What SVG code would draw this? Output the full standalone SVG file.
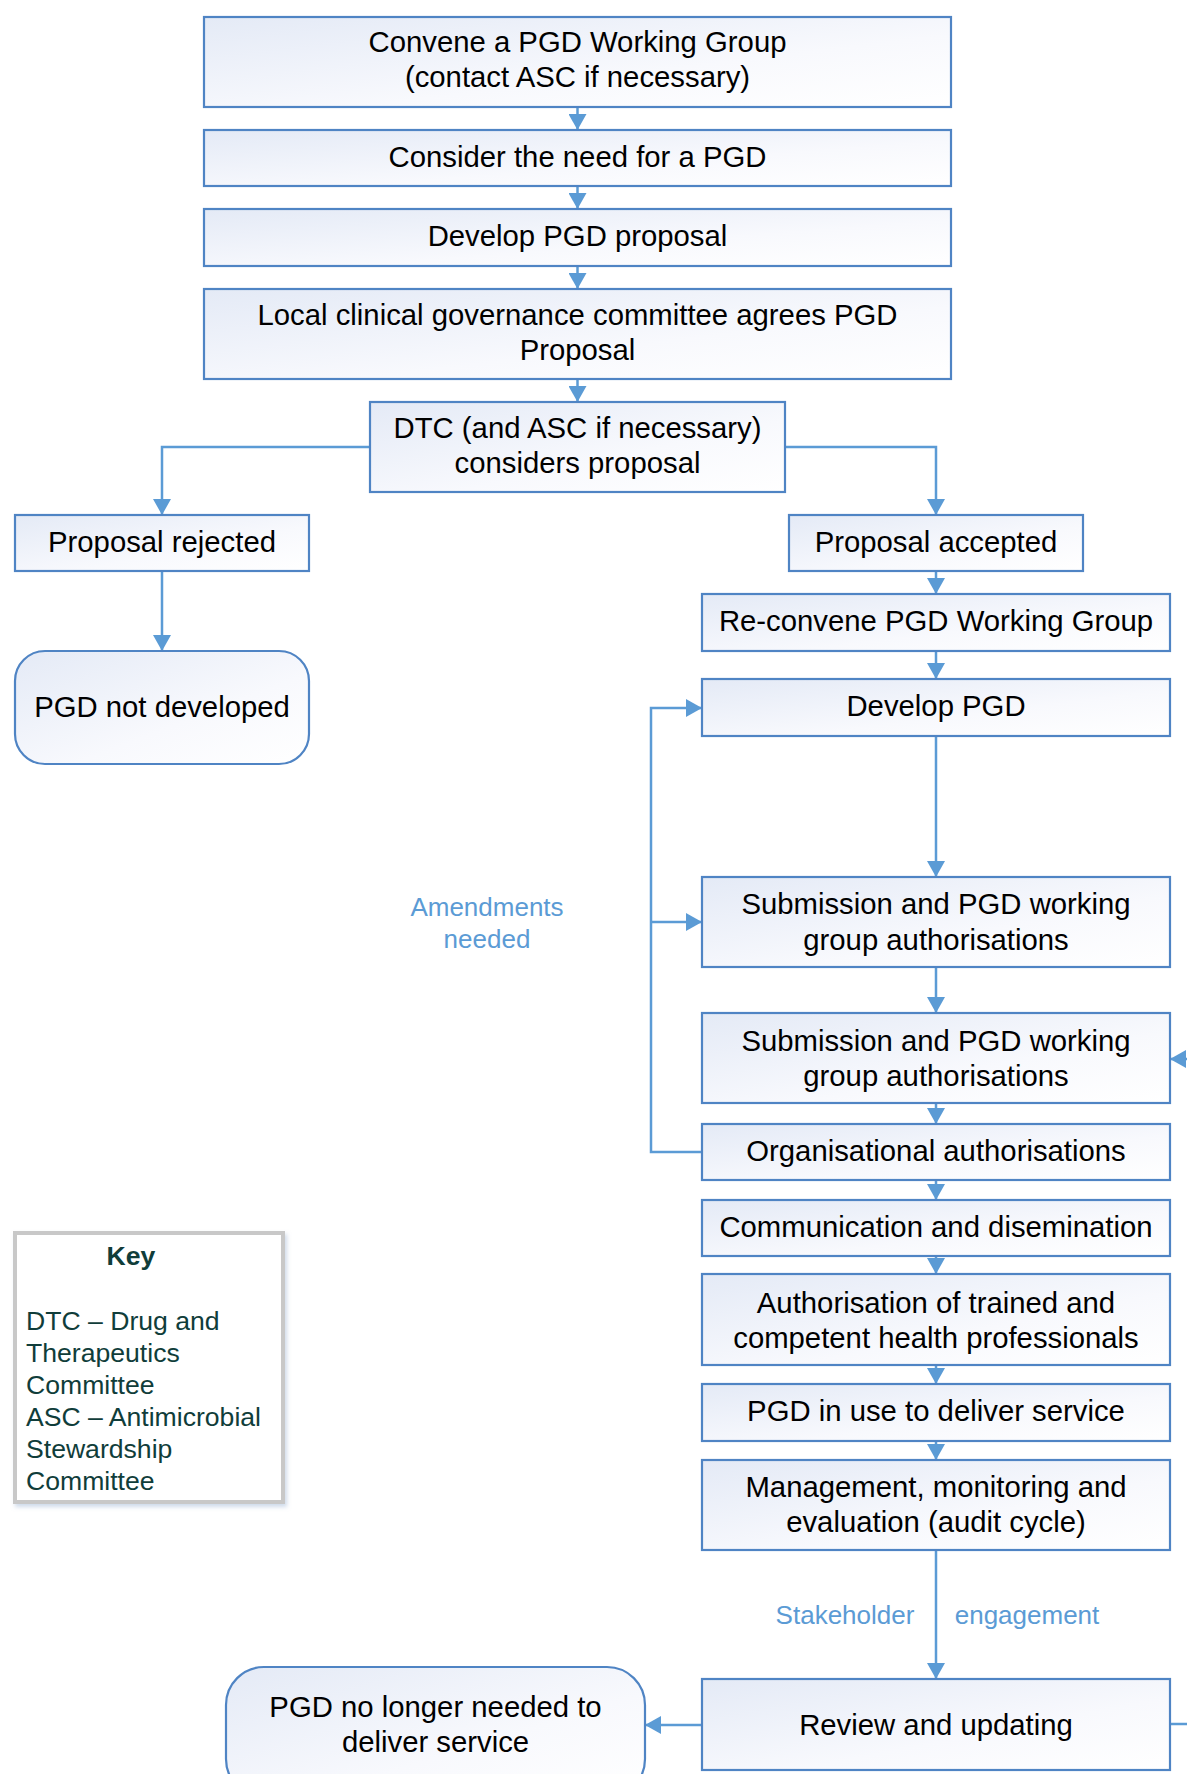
<svg xmlns="http://www.w3.org/2000/svg" width="1187" height="1774" viewBox="0 0 1187 1774">
<style>
.box{fill:url(#g);stroke:#4f84c4;stroke-width:2.2}
.t{font-family:"Liberation Sans",Arial,sans-serif;font-size:29.3px;fill:#000;text-anchor:middle}
.c{fill:none;stroke:#5b9bd5;stroke-width:2.5}
.lbl{font-family:"Liberation Sans",Arial,sans-serif;font-size:26px;fill:#5b9bd5;text-anchor:middle}
.key{font-family:"Liberation Sans",Arial,sans-serif;font-size:26.6px;fill:#103d3a}
</style>
<defs>
<linearGradient id="g" x1="0" y1="0" x2="1" y2="1">
<stop offset="0" stop-color="#e4eaf6"/>
<stop offset="0.6" stop-color="#f8f9fd"/>
<stop offset="1" stop-color="#ffffff"/>
</linearGradient>
<marker id="a" viewBox="0 0 16 18" markerWidth="16" markerHeight="18" refX="16" refY="9" orient="auto" markerUnits="userSpaceOnUse">
<path d="M0,0 L16,9 L0,18 z" fill="#5b9bd5"/>
</marker>
<filter id="sh" x="-10%" y="-10%" width="130%" height="130%">
<feDropShadow dx="2" dy="3" stdDeviation="2" flood-color="#9fb6d6" flood-opacity="0.5"/>
</filter>
</defs>
<rect width="1187" height="1774" fill="#fff"/>
<g id="connectors">
<path class="c" d="M577.5,107 V130" marker-end="url(#a)"/>
<path class="c" d="M577.5,186 V209" marker-end="url(#a)"/>
<path class="c" d="M577.5,266 V289" marker-end="url(#a)"/>
<path class="c" d="M577.5,379 V402" marker-end="url(#a)"/>
<path class="c" d="M370,447 H162 V515" marker-end="url(#a)"/>
<path class="c" d="M785,447 H936 V515" marker-end="url(#a)"/>
<path class="c" d="M162,571 V651" marker-end="url(#a)"/>
<path class="c" d="M936,571 V594" marker-end="url(#a)"/>
<path class="c" d="M936,651 V679" marker-end="url(#a)"/>
<path class="c" d="M936,736 V877" marker-end="url(#a)"/>
<path class="c" d="M936,967 V1013" marker-end="url(#a)"/>
<path class="c" d="M936,1103 V1124" marker-end="url(#a)"/>
<path class="c" d="M936,1180 V1200" marker-end="url(#a)"/>
<path class="c" d="M936,1256 V1274" marker-end="url(#a)"/>
<path class="c" d="M936,1365 V1384" marker-end="url(#a)"/>
<path class="c" d="M936,1441 V1460" marker-end="url(#a)"/>
<path class="c" d="M936,1550 V1679" marker-end="url(#a)"/>
<path class="c" d="M702,1725 H645" marker-end="url(#a)"/>
<path class="c" d="M702,1152 H651 V708 H702" marker-end="url(#a)"/>
<path class="c" d="M651,922 H702" marker-end="url(#a)"/>
<path class="c" d="M1170,1724 H1210 V1059 H1170" marker-end="url(#a)"/>
<text class="lbl" x="487" y="916">Amendments</text>
<text class="lbl" x="487" y="948">needed</text>
<text class="lbl" x="845" y="1624">Stakeholder</text>
<text class="lbl" x="1027" y="1624">engagement</text>
</g>
<g id="n1"><rect class="box" x="204" y="17" width="747" height="90"/><text class="t" x="577.5" y="52">Convene a PGD Working Group</text><text class="t" x="577.5" y="87">(contact ASC if necessary)</text></g>
<g id="n2"><rect class="box" x="204" y="130" width="747" height="56"/><text class="t" x="577.5" y="167">Consider the need for a PGD</text></g>
<g id="n3"><rect class="box" x="204" y="209" width="747" height="57"/><text class="t" x="577.5" y="246">Develop PGD proposal</text></g>
<g id="n4"><rect class="box" x="204" y="289" width="747" height="90"/><text class="t" x="577.5" y="325">Local clinical governance committee agrees PGD</text><text class="t" x="577.5" y="360">Proposal</text></g>
<g id="n5"><rect class="box" x="370" y="402" width="415" height="90"/><text class="t" x="577.5" y="438">DTC (and ASC if necessary)</text><text class="t" x="577.5" y="473">considers proposal</text></g>
<g id="n6"><rect class="box" x="15" y="515" width="294" height="56"/><text class="t" x="162" y="552">Proposal rejected</text></g>
<g id="n7"><rect class="box" x="789" y="515" width="294" height="56"/><text class="t" x="936" y="552">Proposal accepted</text></g>
<g id="n8"><rect class="box" x="15" y="651" width="294" height="113" rx="30"/><text class="t" x="162" y="717">PGD not developed</text></g>
<g id="n9"><rect class="box" x="702" y="594" width="468" height="57"/><text class="t" x="936" y="631">Re-convene PGD Working Group</text></g>
<g id="n10"><rect class="box" x="702" y="679" width="468" height="57"/><text class="t" x="936" y="716">Develop PGD</text></g>
<g id="n11"><rect class="box" x="702" y="877" width="468" height="90"/><text class="t" x="936" y="914">Submission and PGD working</text><text class="t" x="936" y="950">group authorisations</text></g>
<g id="n12"><rect class="box" x="702" y="1013" width="468" height="90"/><text class="t" x="936" y="1051">Submission and PGD working</text><text class="t" x="936" y="1086">group authorisations</text></g>
<g id="n13"><rect class="box" x="702" y="1124" width="468" height="56"/><text class="t" x="936" y="1161">Organisational authorisations</text></g>
<g id="n14"><rect class="box" x="702" y="1200" width="468" height="56"/><text class="t" x="936" y="1237">Communication and disemination</text></g>
<g id="n15"><rect class="box" x="702" y="1274" width="468" height="91"/><text class="t" x="936" y="1313">Authorisation of trained and</text><text class="t" x="936" y="1348">competent health professionals</text></g>
<g id="n16"><rect class="box" x="702" y="1384" width="468" height="57"/><text class="t" x="936" y="1421">PGD in use to deliver service</text></g>
<g id="n17"><rect class="box" x="702" y="1460" width="468" height="90"/><text class="t" x="936" y="1497">Management, monitoring and</text><text class="t" x="936" y="1532">evaluation (audit cycle)</text></g>
<g id="n18"><rect class="box" x="702" y="1679" width="468" height="91"/><text class="t" x="936" y="1735">Review and updating</text></g>
<g id="n19"><rect class="box" x="226" y="1667" width="419" height="130" rx="38"/><text class="t" x="435.5" y="1717">PGD no longer needed to</text><text class="t" x="435.5" y="1752">deliver service</text></g>
<g id="key">
<rect x="15" y="1233" width="268" height="269" fill="#fff" stroke="#c8c8c8" stroke-width="4" filter="url(#sh)"/>
<text class="key" x="131" y="1265" text-anchor="middle" font-weight="bold">Key</text>
<text class="key" x="26" y="1330">DTC – Drug and</text>
<text class="key" x="26" y="1362">Therapeutics</text>
<text class="key" x="26" y="1394">Committee</text>
<text class="key" x="26" y="1426">ASC – Antimicrobial</text>
<text class="key" x="26" y="1458">Stewardship</text>
<text class="key" x="26" y="1490">Committee</text>
</g>
</svg>
